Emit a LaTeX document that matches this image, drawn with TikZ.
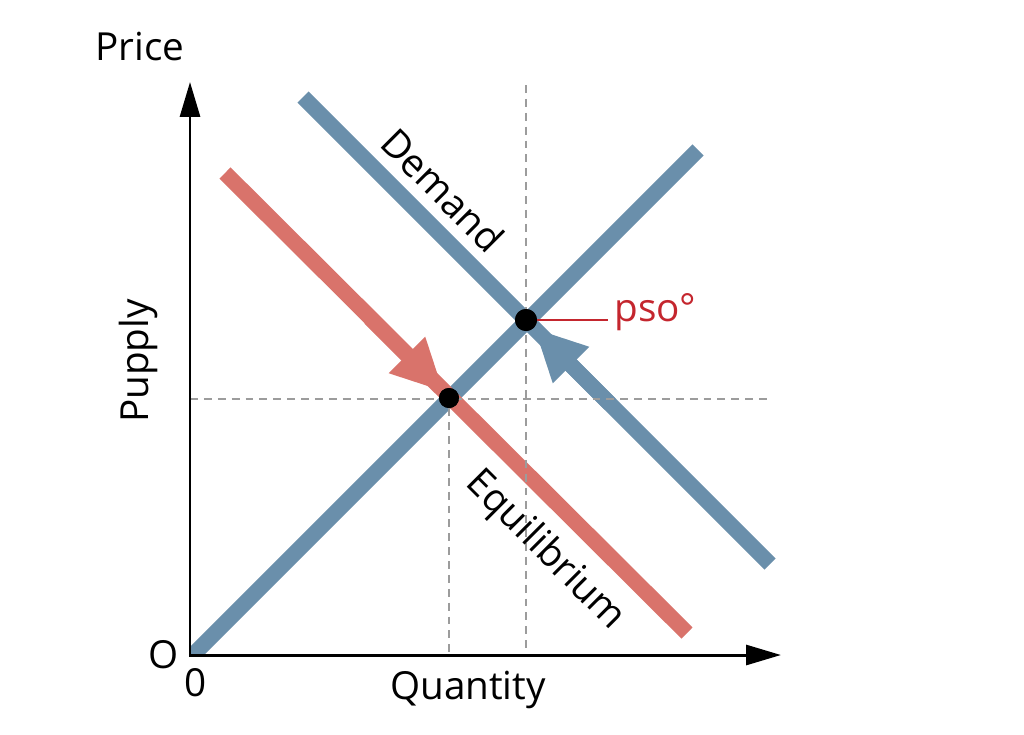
\documentclass[tikz,border=0pt]{standalone}
\usepackage{fontspec}
\setmainfont{Open Sans}
\usepackage{tikz}
\usetikzlibrary{
  arrows.meta,
  positioning,
  calc
}
\definecolor{mkBlue}{HTML}{6A8FAB}
\definecolor{mkRed}{HTML}{D9736B}
\definecolor{mkLabel}{HTML}{C4262E}
\definecolor{mkGuide}{HTML}{9C9C9C}
\tikzset{
  mkline/.style={line width=9pt},
  supplyline/.style={mkline, mkBlue},
  shiftline/.style={mkline, mkRed},
  flowtip/.style={-{Triangle[length=1.05cm,width=0.95cm]}},
  axisline/.style={line width=1.7pt, line join=miter,
    {Triangle[length=0.7cm,width=0.4cm]}-{Triangle[length=0.7cm,width=0.4cm]}},
  guide/.style={mkGuide, line width=0.9pt, dash pattern=on 4.5pt off 3.4pt},
  eqdot/.style={circle, fill=black, inner sep=0pt, minimum size=0.44cm},
  lbl/.style={font=\fontsize{22}{26}\selectfont, inner sep=0pt},
  tag/.style={lbl, text=mkLabel}
}

\begin{document}
\begin{tikzpicture}[x=0.02cm, y=-0.02cm]
  \useasboundingbox (0,0) rectangle (1024,734);
  % axes
  \coordinate (O) at (190,655);
  \coordinate (ytop) at (190,82);
  \coordinate (xend) at (781,655);
  % curves
  \begin{scope}
    \clip (O) rectangle (1024,0);
    \draw[supplyline] (188,660) -- (698,150);
  \end{scope}
  \draw[supplyline] (303,97) -- (770,564);
  \draw[supplyline, flowtip] (610,404) -- (534,328);
  \draw[shiftline] (225,173) -- (687,633);
  \draw[shiftline, flowtip] (370,318) -- (444,392);
  % guides
  \node[eqdot] (up) at (526,320) {};
  \node[eqdot, minimum size=0.4cm] (low) at (449,398) {};
  \draw[guide] (526,85) -- (526,655);
  \draw[guide] (low) -- (449,655);
  \draw[guide] (190,399) -- (768,399);
  \node[eqdot] at (up) {};
  \node[eqdot, minimum size=0.4cm] at (low) {};
  \draw[axisline] (ytop) -- (O) -- (xend);
  % labels
  \coordinate (lead) at (608,320);
  \draw[mkLabel, line width=1.2pt] (up.east) -- (lead);
  \node[tag, anchor=base west] (pso) at (614,321) {pso°};
  \node[lbl] (price) at (140,47) {Price};
  \node[lbl, rotate=90] (pup) at (138,361) {Pupply};
  \node[lbl] (qty) at (468,690) {Quantity};
  \node[lbl] (orig) at (164,655) {O};
  \node[lbl] (zero) at (196,683) {0};
  \node[lbl, rotate=-45] (dem) at (443,190) {Demand};
  \node[lbl, rotate=-45] (equ) at (545,551) {Equilibrium};
\end{tikzpicture}
\end{document}
